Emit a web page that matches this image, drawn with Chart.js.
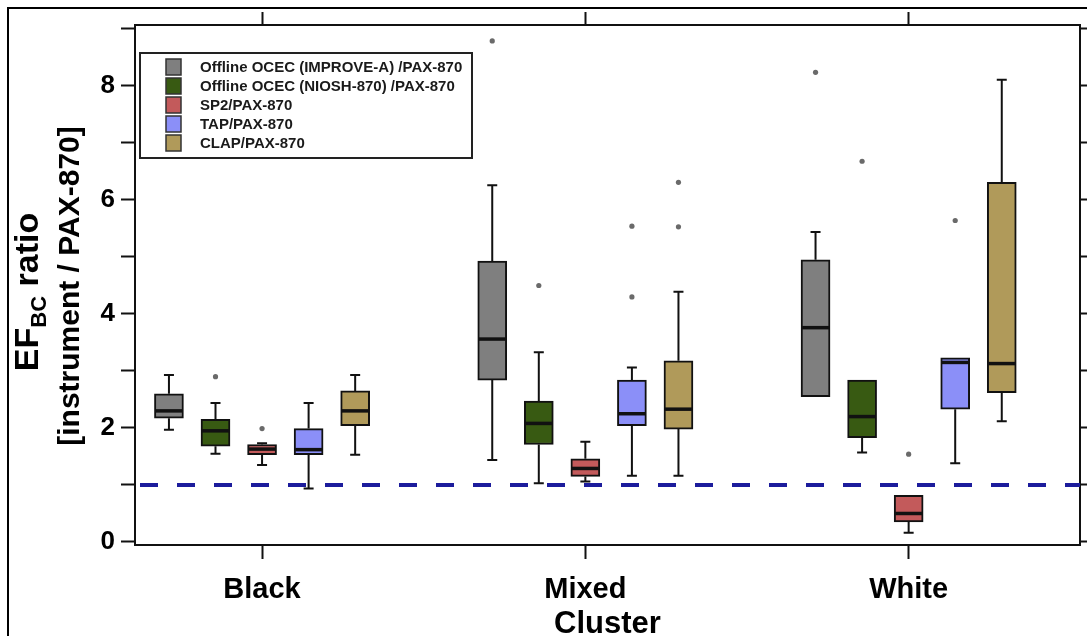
<!DOCTYPE html>
<html>
<head>
<meta charset="utf-8">
<title>EF_BC ratio by cluster</title>
<script src="https://cdn.jsdelivr.net/npm/chart.js@4.4.1/dist/chart.umd.min.js"></script>
<style>
  html, body { margin: 0; padding: 0; background: #fff; }
  #wrap { position: relative; width: 1087px; height: 636px; }
</style>
</head>
<body>
<div id="wrap"><canvas id="chart" width="1087" height="636"></canvas></div>
<script>
// ── Data ────────────────────────────────────────────────────
const clusters = ['Black', 'Mixed', 'White'];
const seriesLabels = [
    'Offline OCEC (IMPROVE-A) /PAX-870',
    'Offline OCEC (NIOSH-870) /PAX-870',
    'SP2/PAX-870',
    'TAP/PAX-870',
    'CLAP/PAX-870',
];
const yTickLabels = [0, 2, 4, 6, 8];
const yTickMarks = [0, 1, 2, 3, 4, 5, 6, 7, 8, 9];

// [lower whisker, Q1, median, Q3, upper whisker] for Black, Mixed, White
const improveStats = [[1.97, 2.17, 2.30, 2.60, 2.93], [1.44, 2.84, 3.56, 4.93, 6.26], [2.55, 2.55, 3.76, 4.95, 5.44]];
const nioshStats   = [[1.55, 1.68, 1.95, 2.15, 2.44], [1.03, 1.71, 2.08, 2.47, 3.33], [1.57, 1.83, 2.20, 2.84, 2.84]];
const sp2Stats     = [[1.35, 1.53, 1.63, 1.71, 1.73], [1.06, 1.15, 1.29, 1.46, 1.76], [0.16, 0.35, 0.50, 0.82, 0.82]];
const tapStats     = [[0.94, 1.53, 1.62, 1.99, 2.44], [1.16, 2.04, 2.25, 2.84, 3.06], [1.38, 2.33, 3.15, 3.23, 3.23]];
const clapStats    = [[1.53, 2.04, 2.30, 2.65, 2.93], [1.16, 1.98, 2.33, 3.18, 4.39], [2.12, 2.62, 3.13, 6.31, 8.11]];

// outliers for Black, Mixed, White
const improveOut = [[], [8.79], [8.24]];
const nioshOut   = [[2.90], [4.50], [6.68]];
const sp2Out     = [[1.99], [], [1.54]];
const tapOut     = [[], [5.54, 4.30], [5.64]];
const clapOut    = [[], [6.31, 5.53], []];

const refRatio = 1;

// ── Style ───────────────────────────────────────────────────
const FONT = "'Liberation Sans', Arial, sans-serif";
const boxColors = ['#7f7f7f', '#385a12', '#c35a5b', '#8b8ff8', '#b09a5a'];
const boxOffsets = [-0.288, -0.144, 0, 0.144, 0.288];
const X_MIN = 0.607, X_MAX = 3.53;
const Y_MIN = -0.053, Y_MAX = 9.07;
const INK = '#111';

Chart.defaults.font.family = FONT;
Chart.defaults.color = '#000';

const allStats = [improveStats, nioshStats, sp2Stats, tapStats, clapStats];
const allOut = [improveOut, nioshOut, sp2Out, tapOut, clapOut];

const boxSets = allStats.map((stats, s) => ({
    type: 'bar',
    label: seriesLabels[s],
    data: stats.map((st, i) => ({ x: i + 1 + boxOffsets[s], y: [st[1], st[3]], stats: st })),
    backgroundColor: boxColors[s],
    borderColor: INK,
    borderWidth: 2,
    borderSkipped: false,
    barThickness: 29,
    grouped: false,
    xAxisID: 'x',
    yAxisID: 'y',
    order: 2,
}));

const outlierSet = {
    type: 'scatter',
    label: 'outliers',
    data: allOut.flatMap((out, s) => out.flatMap((vals, i) => vals.map(v => ({ x: i + 1 + boxOffsets[s], y: v })))),
    pointRadius: 2.6,
    backgroundColor: '#6a6a6a',
    borderWidth: 0,
    xAxisID: 'x',
    yAxisID: 'y',
    order: 1,
};

const refSet = {
    type: 'line',
    label: 'ref',
    data: [{ x: X_MIN, y: refRatio }, { x: X_MAX, y: refRatio }],
    borderColor: '#1c1c9c',
    borderWidth: 4,
    borderDash: [18, 19],
    borderDashOffset: 32,
    pointRadius: 0,
    xAxisID: 'x',
    yAxisID: 'y',
    order: 5,
};

// ── Plugins ────────────────────────────────────────────────
const whiskerPlugin = {
    id: 'whiskers',
    afterDatasetsDraw(chart) {
        const ctx = chart.ctx, y = chart.scales.y;
        chart.data.datasets.forEach((ds, d) => {
            if (ds.type !== 'bar') return;
            chart.getDatasetMeta(d).data.forEach((bar, i) => {
                const [lo, q1, med, q3, hi] = ds.data[i].stats;
                const x = bar.x, half = bar.width / 2, cap = 5;
                ctx.save();
                ctx.strokeStyle = INK;
                ctx.lineWidth = 2;
                ctx.beginPath();
                if (hi > q3) {
                    const yh = y.getPixelForValue(hi);
                    ctx.moveTo(x, y.getPixelForValue(q3)); ctx.lineTo(x, yh);
                    ctx.moveTo(x - cap, yh); ctx.lineTo(x + cap, yh);
                }
                if (lo < q1) {
                    const yl = y.getPixelForValue(lo);
                    ctx.moveTo(x, y.getPixelForValue(q1)); ctx.lineTo(x, yl);
                    ctx.moveTo(x - cap, yl); ctx.lineTo(x + cap, yl);
                }
                ctx.stroke();
                // median
                const ym = y.getPixelForValue(med);
                ctx.lineWidth = 3.5;
                ctx.beginPath();
                ctx.moveTo(x - half + 1, ym); ctx.lineTo(x + half - 1, ym);
                ctx.stroke();
                ctx.restore();
            });
        });
    },
};

const decorPlugin = {
    id: 'decor',
    afterDraw(chart) {
        const ctx = chart.ctx;
        ctx.save();
        // outer frame
        ctx.strokeStyle = '#000';
        ctx.lineWidth = 2;
        ctx.beginPath();
        ctx.moveTo(8, 640); ctx.lineTo(8, 8); ctx.lineTo(1090, 8);
        ctx.stroke();

        // legend box
        const lx = 140, ly = 53, lw = 332, lh = 105;
        ctx.fillStyle = '#fff';
        ctx.fillRect(lx, ly, lw, lh);
        ctx.strokeStyle = '#222';
        ctx.lineWidth = 2;
        ctx.strokeRect(lx, ly, lw, lh);
        ctx.font = 'bold 15px ' + FONT;
        ctx.textBaseline = 'middle';
        ctx.textAlign = 'left';
        seriesLabels.forEach((lab, s) => {
            const cy = 67 + s * 19;
            ctx.fillStyle = boxColors[s];
            ctx.fillRect(166, cy - 8, 15, 16);
            ctx.strokeStyle = '#333';
            ctx.lineWidth = 1.5;
            ctx.strokeRect(166, cy - 8, 15, 16);
            ctx.fillStyle = '#1a1a1a';
            ctx.fillText(lab, 200, cy + 1);
        });

        // y axis title with subscript
        ctx.fillStyle = '#000';
        ctx.textBaseline = 'alphabetic';
        ctx.save();
        ctx.translate(38, 292);
        ctx.rotate(-Math.PI / 2);
        const big = 'bold 34px ' + FONT, small = 'bold 22px ' + FONT;
        ctx.font = big; const wEF = ctx.measureText('EF').width, wR = ctx.measureText(' ratio').width;
        ctx.font = small; const wBC = ctx.measureText('BC').width;
        const sx = -(wEF + wBC + wR) / 2;
        ctx.textAlign = 'left';
        ctx.font = big; ctx.fillText('EF', sx, 0);
        ctx.font = small; ctx.fillText('BC', sx + wEF, 8);
        ctx.font = big; ctx.fillText(' ratio', sx + wEF + wBC, 0);
        ctx.restore();

        ctx.save();
        ctx.translate(79, 286);
        ctx.rotate(-Math.PI / 2);
        ctx.font = 'bold 30px ' + FONT;
        ctx.textAlign = 'center';
        ctx.fillText('[instrument / PAX-870]', 0, 0);
        ctx.restore();

        ctx.restore();
    },
};

// ── Chart ──────────────────────────────────────────────────
const categoryTicks = s => { s.ticks = clusters.map((c, i) => ({ value: i + 1 })); };
const integerTicks = s => { s.ticks = yTickMarks.map(v => ({ value: v })); };

new Chart(document.getElementById('chart'), {
    type: 'bar',
    data: { datasets: [...boxSets, outlierSet, refSet] },
    options: {
        responsive: false,
        animation: false,
        devicePixelRatio: 1,
        layout: { padding: { top: 25, right: 7, left: 0, bottom: 0 } },
        plugins: { legend: { display: false }, tooltip: { enabled: false } },
        scales: {
            x: {
                type: 'linear', position: 'bottom', min: X_MIN, max: X_MAX, offset: false,
                afterBuildTicks: categoryTicks,
                ticks: {
                    callback: v => clusters[v - 1] ?? '',
                    font: { size: 29, weight: 'bold' }, color: '#000',
                    padding: 14, maxRotation: 0, autoSkip: false,
                },
                grid: { drawOnChartArea: false, offset: false, tickLength: 14, tickColor: INK, tickWidth: 2 },
                border: { color: INK, width: 2 },
                title: {
                    display: true, text: 'Cluster', color: '#000',
                    font: { size: 31, weight: 'bold', lineHeight: 1 },
                    padding: { top: 0, bottom: -4 },
                },
                afterFit: s => { s.height = 91; },
            },
            x2: {
                type: 'linear', position: 'top', min: X_MIN, max: X_MAX, offset: false,
                afterBuildTicks: categoryTicks,
                ticks: { display: false },
                grid: { drawOnChartArea: false, offset: false, tickLength: 13, tickColor: INK, tickWidth: 2 },
                border: { color: INK, width: 2 },
                afterFit: s => { s.height = 0; },
            },
            y: {
                type: 'linear', position: 'left', min: Y_MIN, max: Y_MAX, stacked: false,
                afterBuildTicks: integerTicks,
                ticks: {
                    callback: v => yTickLabels.includes(v) ? String(v) : '',
                    font: { size: 26, weight: 'bold' }, color: '#000', padding: 6,
                },
                grid: { drawOnChartArea: false, tickLength: 14, tickColor: INK, tickWidth: 2 },
                border: { color: INK, width: 2 },
                afterFit: s => { s.width = 135; },
            },
            y2: {
                type: 'linear', position: 'right', min: Y_MIN, max: Y_MAX,
                afterBuildTicks: integerTicks,
                ticks: { display: false },
                grid: { drawOnChartArea: false, tickLength: 7, tickColor: INK, tickWidth: 2 },
                border: { color: INK, width: 2 },
                afterFit: s => { s.width = 0; },
            },
        },
    },
    plugins: [whiskerPlugin, decorPlugin],
});
</script>
</body>
</html>
